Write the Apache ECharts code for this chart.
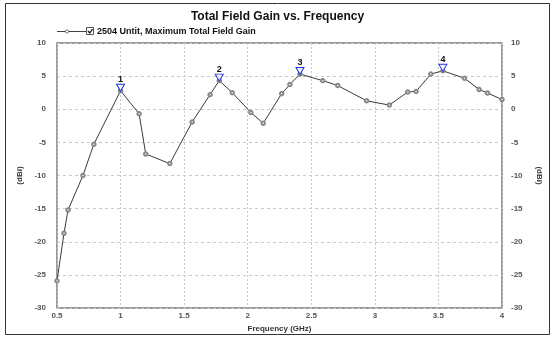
<!DOCTYPE html>
<html>
<head>
<meta charset="utf-8">
<script src="https://cdn.jsdelivr.net/npm/echarts@6/dist/echarts.min.js"></script>
<style>html,body{margin:0;padding:0;background:#fff}#c{width:555px;height:338px}</style>
</head>
<body>
<div id="c"></div>
<script>
const freqGHz = [0.5, 0.555, 0.587, 0.704, 0.79, 1.0, 1.146, 1.198, 1.387, 1.563, 1.704, 1.776, 1.878, 2.025, 2.122, 2.267, 2.332, 2.411, 2.59, 2.708, 2.935, 3.114, 3.259, 3.324, 3.44, 3.535, 3.705, 3.82, 3.886, 4.0];
const gainDBi = [-25.9, -18.7, -15.2, -10.0, -5.27, 2.8, -0.69, -6.74, -8.2, -1.92, 2.21, 4.32, 2.51, -0.49, -2.11, 2.36, 3.73, 5.31, 4.32, 3.58, 1.28, 0.63, 2.61, 2.7, 5.31, 5.8, 4.68, 2.99, 2.46, 1.47];
const peakLabels = ['1', '2', '3', '4'];
const peakFreq = [1.0, 1.776, 2.411, 3.535];
const peakGain = [2.8, 4.32, 5.31, 5.8];
const yTicks = [-30, -25, -20, -15, -10, -5, 0, 5, 10];
const xTicks = [0.5, 1, 1.5, 2, 2.5, 3, 3.5, 4];
const seriesName = '2504 Untit, Maximum Total Field Gain';

const FONT = '"Liberation Sans", Arial, sans-serif';
const lblStyle = {fontFamily: FONT, fontSize: 8, fontWeight: 'bold', color: '#555'};

const chart = echarts.init(document.getElementById('c'), null, {renderer: 'canvas'});
const yAxisBase = (pos) => ({
  type: 'value', position: pos, min: yTicks[0], max: yTicks[yTicks.length - 1], interval: 5,
  name: '(dBi)', nameLocation: 'middle',
  nameGap: pos === 'left' ? 32 : 33,
  nameRotate: pos === 'left' ? 90 : -90,
  nameTextStyle: {fontFamily: FONT, fontSize: 8, fontWeight: 'bold', color: '#333'},
  axisLine: {show: false}, axisTick: {show: false},
  axisLabel: Object.assign({margin: pos === 'left' ? 11 : 9}, lblStyle),
  splitLine: {show: pos === 'left', lineStyle: {type: [3, 3], color: '#c8c8c8', width: 1}}
});
chart.setOption({
  animation: false,
  backgroundColor: '#fff',
  title: {
    text: 'Total Field Gain vs. Frequency', left: 'center', top: 6,
    textStyle: {fontFamily: FONT, fontSize: 12, fontWeight: 'bold', color: '#111'}
  },
  grid: {left: 57, right: 53, top: 43, bottom: 24, show: true, borderColor: '#7a7a7a', borderWidth: 1.5},
  xAxis: {
    type: 'value', min: xTicks[0], max: xTicks[xTicks.length - 1], interval: 0.5,
    name: 'Frequency (GHz)', nameLocation: 'middle', nameGap: 14,
    nameTextStyle: {fontFamily: FONT, fontSize: 8, fontWeight: 'bold', color: '#333'},
    axisLine: {show: false}, axisTick: {show: false},
    axisLabel: Object.assign({margin: 4}, lblStyle),
    splitLine: {show: true, lineStyle: {type: [2, 2], color: '#c8c8c8', width: 1}}
  },
  yAxis: [yAxisBase('left'), yAxisBase('right')],
  graphic: [
    {type: 'rect', shape: {x: 5.5, y: 3.5, width: 544, height: 331}, style: {fill: 'none', stroke: '#333', lineWidth: 1}, silent: true, z: -1},
    {type: 'line', shape: {x1: 57, y1: 31.5, x2: 86, y2: 31.5}, style: {stroke: '#444', lineWidth: 1}, z: 10},
    {type: 'circle', shape: {cx: 67, cy: 31.5, r: 1.6}, style: {fill: '#fff', stroke: '#555', lineWidth: 0.8}, z: 11},
    {type: 'rect', shape: {x: 86.5, y: 27.5, width: 7, height: 7}, style: {fill: '#fff', stroke: '#555', lineWidth: 1}, z: 10},
    {type: 'polyline', shape: {points: [[88, 31], [89.8, 33], [92.5, 29]]}, style: {fill: 'none', stroke: '#111', lineWidth: 1.3}, z: 11},
    {type: 'text', x: 97, y: 31.5, style: {text: seriesName, fontFamily: FONT, fontSize: 9, fontWeight: 'bold', fill: '#111', verticalAlign: 'middle'}, z: 11}
  ],
  series: [
    {
      name: seriesName, type: 'line', yAxisIndex: 0,
      data: freqGHz.map((f, i) => [f, gainDBi[i]]),
      symbol: 'emptyCircle', symbolSize: 3.5, showAllSymbol: true,
      lineStyle: {color: '#3a3a3a', width: 1},
      itemStyle: {color: '#888', borderWidth: 0.7},
      markPoint: {
        symbol: 'triangle', symbolSize: [8, 7], symbolRotate: 180, symbolOffset: [0, -3],
        itemStyle: {color: '#f4f4e0', borderColor: '#2233ee', borderWidth: 1},
        label: {show: true, position: 'top', distance: 0, fontFamily: FONT, fontSize: 9, fontWeight: 'bold', color: '#111', formatter: p => p.name},
        data: peakLabels.map((n, i) => ({name: n, coord: [peakFreq[i], peakGain[i]]}))
      }
    }
  ]
});
</script>
</body>
</html>
